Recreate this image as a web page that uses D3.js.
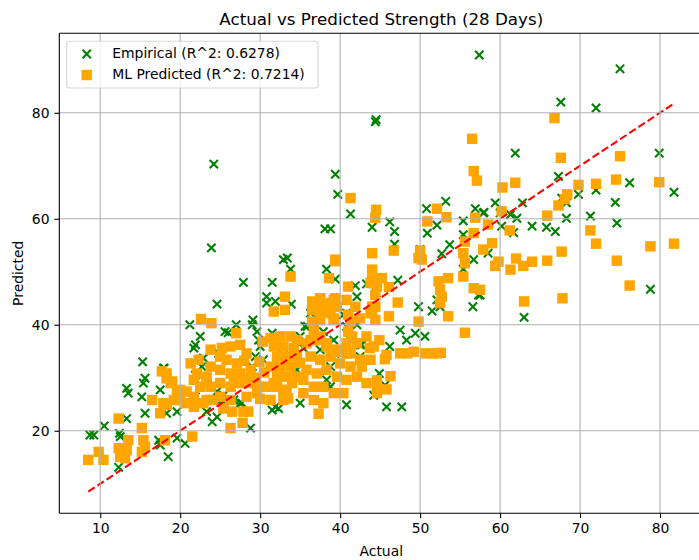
<!DOCTYPE html>
<head>
    <meta charset="utf-8">
    <script src="https://d3js.org/d3.v7.min.js"></script>
    <style>
        body { margin:0; background:#fff; }
        text { font-family: 'DejaVu Sans', sans-serif; fill: #000; }
        .grid line { stroke: #b0b0b0; stroke-width: 1.1; }
        .axis .domain { display: none; }
        .axis line { stroke: #000; stroke-width: 1.1; }
        .axis text { font-size: 13.9px; }
        .spine { stroke: #000; stroke-width: 1.1; }
        .line--ideal { stroke: #ff0000; stroke-width: 2.08; stroke-dasharray: 7.7 3.3; fill: none; }
        .mark--empirical { stroke: #008000; stroke-width: 2.08; fill: none; }
        .mark--ml { fill: #ffa500; stroke: #ffa500; stroke-width: 2.08; }
        .legend-box { fill: #fff; fill-opacity: 0.8; stroke: #cccccc; stroke-opacity: 0.8; stroke-width: 1.1; }
        .legend-label, .axis-label { font-size: 13.9px; }
        .title { font-size: 16.7px; }
    </style>
</head>

<body>
  <script>
    const xTicks = [10, 20, 30, 40, 50, 60, 70, 80];
    const yTicks = [20, 40, 60, 80];
    const idealRange = [8.5, 81.75];
    const legendLabels = ['Empirical (R^2: 0.6278)', 'ML Predicted (R^2: 0.7214)'];

    // [actual, predicted]
    const empirical = [
        [57.4,90.9],[75.0,88.3],[67.6,82.0],[72.0,80.9],[61.9,72.4],[79.9,72.4],[67.3,68.0],[76.2,66.8],
        [81.75,65.0],[69.8,64.6],[72.0,65.4],[67.7,63.9],[68.3,63.0],[74.4,63.1],[59.4,63.0],[62.8,63.0],
        [57.9,61.1],[60.0,61.1],[61.3,60.8],[62.1,60.1],[68.3,60.1],[71.3,60.5],[74.6,59.2],[60.2,58.6],
        [61.7,57.4],[64.0,58.6],[65.8,58.4],[66.9,57.6],[58.5,53.5],[57.5,45.6],[78.8,46.7],[63.0,41.4],
        [39.7,64.6],[41.3,60.9],[38.1,58.1],[38.8,58.1],[44.0,58.4],[46.2,59.4],[46.8,57.6],[46.8,55.2],
        [50.8,61.9],[53.2,63.3],[52.1,58.8],[50.9,57.3],[55.4,59.6],[56.9,61.9],[58.0,61.2],[55.4,57.0],
        [50.0,54.2],[52.7,53.4],[53.7,55.1],[56.7,52.3],[55.4,50.5],[38.3,50.5],[39.4,48.6],[41.9,47.4],
        [43.3,47.7],[47.2,48.4],[44.5,46.0],[42.1,45.3],[49.8,43.4],[52.1,44.7],[52.5,43.4],[51.5,42.6],
        [57.3,45.6],[56.6,43.4],[36.3,42.2],[40.8,42.2],[41.7,40.9],[47.5,39.0],[49.4,38.4],[50.6,37.8],
        [48.3,37.1],[42.7,36.2],[46.2,35.9],[35.6,39.7],[35.0,37.8],
        [24.2,70.3],[39.4,68.4],[44.4,78.3],[44.5,78.7],[23.9,54.5],
        [44.9,30.8],[45.6,28.6],[45.8,24.5],[47.7,24.5],
        [27.9,48.0],[31.5,48.0],[24.6,43.9],[30.8,45.3],[30.8,44.1],[31.9,44.4],[33.9,43.9],[32.9,52.3],
        [33.4,52.6],[33.8,50.5],[21.2,40.0],[22.5,37.8],[21.9,36.2],[25.6,38.7],[26.0,38.5],[27.0,40.0],
        [29.1,40.9],[29.0,40.0],[29.6,38.7],[29.8,37.1],[31.5,38.4],[35.9,39.7],[36.7,39.0],[37.9,38.7],
        [40.4,41.9],[40.8,39.7],[42.1,40.0],[42.5,36.2],[41.3,37.1],[29.4,34.0],[18.0,31.8],[22.7,32.1],
        [21.9,30.5],[32.9,34.3],[34.6,31.5],[38.3,29.6],[38.8,28.3],[24.6,27.4],[25.2,25.8],[27.5,25.2],
        [31.9,24.5],[32.3,24.2],[40.8,24.9],[21.7,26.1],[44.2,26.7],
        [21.7,35.6],[22.9,33.7],[24.8,34.6],[29.0,32.1],[30.4,33.4],[30.0,35.9],[35.4,35.6],[37.5,35.3],
        [39.2,37.1],[40.2,34.6],[42.5,34.0],[38.8,32.1],[32.9,26.4],[35.0,25.2],[22.1,25.2],[25.4,24.5],
        [13.5,27.1],[15.4,29.0],[15.2,26.4],[15.6,23.3],[13.3,22.3],[17.5,27.7],[8.7,19.2],[9.2,19.2],
        [10.5,20.9],[12.4,19.5],[12.5,18.9],[12.3,13.1],[18.3,23.3],[19.6,23.6],[18.5,15.1],[17.5,17.3],
        [17.3,18.2],[20.6,17.6],[19.6,18.6],[21.9,26.4],[23.3,23.6],[24.0,21.7],[24.6,22.6],[25.4,26.7],
        [26.7,25.8],[27.7,25.2],[28.8,20.5],[31.5,23.9],[17.5,23.3],
        [15.3,33.0],[15.6,29.9],[13.3,28.0],[17.9,31.8]
    ];

    const mlPredicted = [
        [66.8,79.0],[67.6,71.5],[75.0,71.8],[57.1,67.2],[60.3,65.9],[61.9,66.8],[69.8,66.4],[72.0,66.6],
        [74.5,67.4],[79.9,66.9],[68.4,64.6],[68.1,63.7],[67.3,62.5],[60.2,61.4],[65.9,60.6],[58.5,58.9],
        [61.2,57.8],[71.3,57.8],[59.0,55.4],[72.0,55.3],[78.8,54.8],[81.75,55.3],[57.9,54.2],[67.7,53.8],
        [59.8,51.9],[59.4,51.1],[62.0,52.5],[62.9,51.1],[64.0,51.9],[65.9,52.1],[61.3,50.4],[74.6,52.1],
        [76.2,47.4],[57.5,46.6],[67.8,45.0],[63.0,44.4],
        [56.5,75.1],[56.7,69.0],
        [41.3,63.9],[44.5,61.7],[44.4,60.2],[50.9,59.5],[52.1,61.9],[53.3,60.3],[56.9,60.2],[56.7,57.3],
        [55.6,55.7],[55.4,53.5],[55.6,51.6],[55.4,49.1],[56.7,46.9],[46.7,54.0],[44.0,53.5],[50.0,54.0],
        [50.2,52.3],[49.8,52.6],[39.4,52.3],[44.0,50.4],[45.2,48.8],[44.0,48.5],[38.6,48.8],[41.0,47.2],
        [44.6,47.2],[44.4,45.6],[46.1,47.1],[52.3,48.2],[53.5,48.8],[52.5,46.6],[52.7,45.3],[52.5,44.1],
        [55.6,38.5],[53.5,41.6],[49.8,40.6],[47.2,44.2],[44.0,42.2],[44.4,40.9],[44.0,43.4],[46.1,41.6],
        [39.4,45.0],[38.8,44.1],[38.1,43.8],[37.5,44.7],[41.9,43.4],[40.8,44.7],[36.7,42.8],[38.3,42.2],
        [39.2,40.9],[37.5,40.9],[36.7,39.0],[37.5,37.8],[36.3,37.1],[38.3,36.5],[41.5,37.8],[40.8,36.5],
        [39.5,34.9],[41.3,34.6],[43.7,35.6],[44.9,37.1],[45.8,34.3],[47.5,34.6],[48.4,34.6],[49.2,34.9],
        [50.6,34.6],[51.5,34.6],[52.1,34.6],[52.6,34.7],
        [45.6,33.5],[46.3,30.3],[44.6,29.5],[45.8,27.8],[44.6,27.1],
        [33.8,49.1],[39.4,52.0],[33.1,45.3],[31.7,42.5],[33.1,42.8],[22.6,41.1],[23.9,40.3],[27.0,38.4],
        [36.5,44.4],[37.5,45.0],[36.5,42.8],[37.5,42.8],[38.8,42.8],[39.2,44.7],[39.6,43.4],[36.5,40.6],
        [39.2,41.2],[41.0,41.9],[41.3,40.6],[42.5,41.2],[43.8,42.2],[44.4,43.4],[44.4,47.9],[43.8,47.9],
        [41.0,38.7],[42.7,32.1],
        [31.3,37.5],[32.5,37.8],[33.8,37.8],[34.6,37.1],[31.7,35.9],[32.9,35.9],[34.2,35.6],[32.1,34.0],
        [33.3,34.0],[34.6,34.0],[31.3,32.1],[32.5,32.1],[33.8,32.1],[32.1,30.2],[33.3,30.2],[34.6,30.2],
        [30.8,28.3],[32.1,28.3],[33.3,27.7],
        [21.3,32.7],[22.3,33.4],[23.8,35.3],[25.2,35.6],[26.3,35.9],[27.5,36.2],[28.3,34.6],[25.0,34.0],
        [25.8,33.4],[27.1,32.7],[23.8,32.1],[22.1,30.8],[23.3,30.2],[25.0,31.5],[26.3,30.8],[27.5,30.8],
        [28.8,31.5],[22.5,28.3],[23.8,28.3],[25.0,29.0],[26.3,28.3],[27.9,29.0],[29.2,29.0],[21.7,26.4],
        [23.3,25.8],[25.0,26.4],[26.3,25.8],[28.3,26.4],[29.6,27.1],[18.3,30.8],[18.8,29.0],[20.0,27.7],
        [19.2,25.8],[20.6,25.2],[17.9,25.2],
        [35.8,36.5],[37.1,37.1],[38.3,35.9],[39.6,35.3],[40.8,34.6],[42.1,36.5],[43.3,37.8],[44.2,35.9],
        [36.3,34.0],[37.5,33.4],[38.8,34.0],[40.0,32.7],[41.3,32.1],[42.5,33.4],[43.8,33.4],[35.8,31.5],
        [37.1,30.8],[38.3,31.5],[39.6,30.2],[40.8,29.6],[42.1,30.2],[43.3,29.0],[44.6,28.3],[35.4,29.6],
        [36.7,28.3],[37.9,28.3],[39.2,27.1],[35.4,27.1],[36.7,25.8],[37.9,25.2],[40.4,27.1],
        [29.5,30.0],[30.5,31.0],[29.9,33.0],[28.0,33.2],[30.3,36.8],[34.0,29.0],[35.0,32.8],[30.0,26.0],
        [37.3,23.2],
        [8.5,14.5],[9.8,16.0],[10.4,14.5],[12.3,22.3],[12.3,16.7],[13.3,16.3],[13.1,14.8],[12.5,15.1],
        [13.5,18.2],[15.2,20.5],[15.4,18.2],[15.6,17.0],[15.2,16.0],[18.1,18.2],[16.5,25.8],[17.5,23.3],
        [18.3,24.9],[20.0,25.8],[20.8,27.4],[19.6,27.7],[21.5,18.9],[21.7,24.5],[22.9,25.2],[24.0,25.8],
        [25.4,24.2],[26.5,23.6],[27.9,23.6],[28.5,23.6],[26.3,20.5],[27.8,21.5],[21.7,29.6],[23.3,29.0],
        [26.7,29.0],[28.3,29.6],[30.0,28.3],[31.7,29.0],[32.9,27.7],[33.5,26.1],[31.3,25.8],[32.9,25.8],
        [17.7,31.2],[18.3,29.9],[19.0,29.3]
    ];

    const width = 699;
    const height = 560;
    const plot = {left: 59.3, top: 33.3, right: 703.2, bottom: 513.3};

    const xScale = d3.scaleLinear()
        .domain([4.88, 85.4])
        .range([plot.left, plot.right]);

    const yScale = d3.scaleLinear()
        .domain([4.42, 95.0])
        .range([plot.bottom, plot.top]);

    const svg = d3.select('body').append('svg')
        .attr('width', width)
        .attr('height', height);

    svg.append('clipPath')
        .attr('id', 'plot-clip')
      .append('rect')
        .attr('x', plot.left)
        .attr('y', plot.top)
        .attr('width', plot.right - plot.left)
        .attr('height', plot.bottom - plot.top);

    const xMark = 'M-4.17,-4.17L4.17,4.17M-4.17,4.17L4.17,-4.17';
    const side = 8.33;

    const marks = svg.append('g').attr('clip-path', 'url(#plot-clip)');

    marks.append('g')
        .selectAll('path')
        .data(empirical)
        .enter().append('path')
        .attr('class', 'mark--empirical')
        .attr('transform', d => `translate(${xScale(d[0])},${yScale(d[1])})`)
        .attr('d', xMark);

    marks.append('g')
        .selectAll('rect')
        .data(mlPredicted)
        .enter().append('rect')
        .attr('class', 'mark--ml')
        .attr('x', d => xScale(d[0]) - side / 2)
        .attr('y', d => yScale(d[1]) - side / 2)
        .attr('width', side)
        .attr('height', side);

    // grid sits above the scatter, like matplotlib's default zorder
    const grid = svg.append('g').attr('class', 'grid');
    grid.selectAll('.gx')
        .data(xTicks)
        .enter().append('line')
        .attr('x1', d => xScale(d)).attr('x2', d => xScale(d))
        .attr('y1', plot.top).attr('y2', plot.bottom);
    grid.selectAll('.gy')
        .data(yTicks)
        .enter().append('line')
        .attr('x1', plot.left).attr('x2', plot.right)
        .attr('y1', d => yScale(d)).attr('y2', d => yScale(d));

    const ideal = d3.line()
        .x(d => xScale(d))
        .y(d => yScale(d));

    marks.append('path')
        .datum(idealRange)
        .attr('class', 'line--ideal')
        .attr('d', ideal);

    svg.append('g')
        .attr('class', 'axis x')
        .attr('transform', `translate(0,${plot.bottom})`)
        .call(d3.axisBottom(xScale).tickValues(xTicks).tickSize(4.86).tickPadding(5.3));

    svg.append('g')
        .attr('class', 'axis y')
        .attr('transform', `translate(${plot.left},0)`)
        .call(d3.axisLeft(yScale).tickValues(yTicks).tickSize(4.86).tickPadding(4.9));

    const spines = svg.append('g');
    [[plot.left, plot.top, plot.left, plot.bottom],
     [plot.left, plot.bottom, plot.right, plot.bottom],
     [plot.left, plot.top, plot.right, plot.top],
     [plot.right, plot.top, plot.right, plot.bottom]].forEach(s => {
        spines.append('line').attr('class', 'spine')
            .attr('x1', s[0]).attr('y1', s[1]).attr('x2', s[2]).attr('y2', s[3]);
    });

    svg.append('text')
        .attr('class', 'title')
        .attr('x', (plot.left + plot.right) / 2)
        .attr('y', 25)
        .attr('text-anchor', 'middle')
        .text('Actual vs Predicted Strength (28 Days)');

    svg.append('text')
        .attr('class', 'axis-label')
        .attr('x', (plot.left + plot.right) / 2)
        .attr('y', 556)
        .attr('text-anchor', 'middle')
        .text('Actual');

    svg.append('text')
        .attr('class', 'axis-label')
        .attr('transform', `translate(23.3,${(plot.top + plot.bottom) / 2}) rotate(-90)`)
        .attr('text-anchor', 'middle')
        .text('Predicted');

    const legend = svg.append('g');
    legend.append('rect')
        .attr('class', 'legend-box')
        .attr('x', 66.7).attr('y', 41.3)
        .attr('width', 251.3).attr('height', 46.7)
        .attr('rx', 2.8);

    legend.append('path')
        .attr('class', 'mark--empirical')
        .attr('transform', 'translate(86.7,54)')
        .attr('d', xMark);

    legend.append('rect')
        .attr('class', 'mark--ml')
        .attr('x', 86.7 - side / 2).attr('y', 75 - side / 2)
        .attr('width', side).attr('height', side);

    legend.selectAll('.legend-label')
        .data(legendLabels)
        .enter().append('text')
        .attr('class', 'legend-label')
        .attr('x', 112.3)
        .attr('y', (d, i) => 57.8 + i * 21)
        .text(d => d);
  </script>
</body>
